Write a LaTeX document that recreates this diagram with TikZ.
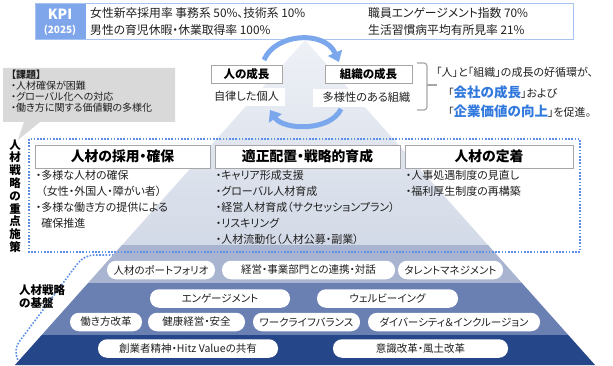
\documentclass[tikz,border=0pt]{standalone}
\usepackage{fontspec}
\setmainfont{Noto Sans CJK JP}[RawFeature=+palt]
\usetikzlibrary{shapes,arrows.meta,positioning,calc}
\usepackage{xcolor}
\definecolor{kpiblue}{HTML}{7FA6EA}
\definecolor{kpiline}{HTML}{A7C3F2}
\definecolor{cycblue}{HTML}{7BA7EC}
\definecolor{dotblue}{HTML}{5B8FE8}
\definecolor{keyblue}{HTML}{3279DD}
\definecolor{callgray}{HTML}{D9D9D9}
\definecolor{headgray}{HTML}{A6A6A6}
\definecolor{pyrtop}{HTML}{EEF1F6}
\definecolor{pyrbot}{HTML}{C3CCDE}
\definecolor{bandone}{HTML}{A9B5D0}
\definecolor{bandtwo}{HTML}{6A7FB2}
\definecolor{bandthree}{HTML}{26468A}
\definecolor{textdark}{HTML}{202020}
\tikzset{
  >=Stealth,
  kpitext/.style={anchor=west,font=\fontsize{11.8}{13}\selectfont,inner sep=0pt},
  head/.style={draw=headgray,fill=white,line width=0.8pt,minimum height=23pt,font=\fontsize{13.8}{15}\selectfont\bfseries,inner sep=0pt,text=black},
  growbox/.style={draw=headgray,fill=white,line width=0.8pt,minimum height=18pt,font=\fontsize{11.5}{13}\selectfont\bfseries,inner sep=0pt,text=black},
  growtext/.style={fill=white,minimum height=18pt,font=\fontsize{11.2}{13}\selectfont,inner sep=0pt},
  pill/.style={fill=white,rounded corners=9pt,minimum height=18.5pt,font=\fontsize{10.5}{12}\selectfont,inner sep=0pt},
  items/.style={align=left,font=\fontsize{11}{15.8}\selectfont,inner sep=0pt},
  cyc/.style={draw=cycblue,line width=5pt,-{Triangle[width=15pt,length=10pt]}},
  dotline/.style={draw=dotblue,line width=1.6pt,dash pattern=on 1.6pt off 1.6pt},
  brace/.style={draw=headgray,line width=1.2pt,rounded corners=3pt}
}
\begin{document}
\begin{tikzpicture}[x=1pt,y=-1pt,every node/.append style={text=textdark}]
\useasboundingbox (0,0) rectangle (613,366);
\draw[dotline,rounded corners=10pt] (120,255) -- (84,255) -- (13,350) -- (20,364);
\coordinate (apex) at (305,40);
\coordinate (bl) at (15,365);
\coordinate (br) at (595,365);
\shade[top color=pyrtop,bottom color=pyrbot] (apex) -- (bl) -- (br) -- cycle;
\begin{scope}
\clip (apex) -- (bl) -- (br) -- cycle;
\fill[bandone] (0,245) rectangle (613,283);
\fill[bandtwo] (0,283) rectangle (613,335);
\fill[bandthree] (0,335) rectangle (613,366);
\end{scope}

\node[draw=kpiline,line width=0.8pt,fill=white,minimum width=538pt,minimum height=36pt,anchor=north west,inner sep=0pt] (kpibox) at (35,3) {};
\node[fill=kpiblue,minimum width=50pt,minimum height=35pt,anchor=north west,inner sep=0pt] (kpitag) at (35.4,3.4) {};
\node[text=white,font=\fontsize{14}{15}\selectfont\bfseries,inner sep=0pt] (kpi) at (60,14.5) {KPI};
\node[text=white,font=\fontsize{10}{11}\selectfont\bfseries,inner sep=0pt] (kpiyear) at (60,30) {(2025)};
\node[kpitext] (kpihire) at (90,13.5) {女性新卒採用率 事務系 50\%、技術系 10\%};
\node[kpitext] (kpileave) at (90,30) {男性の育児休暇・休業取得率 100\%};
\node[kpitext] (kpiengage) at (368,13.5) {職員エンゲージメント指数 70\%};
\node[kpitext] (kpihealth) at (368,30) {生活習慣病平均有所見率 21\%};

\fill[callgray] (3,68) -- (175,68) -- (175,122) -- (40,122) -- (18,140) -- (24,122) -- (3,122) -- cycle;
\node[anchor=north west,align=left,font=\fontsize{10}{11}\selectfont,inner sep=0pt] (issue) at (11,70) {\textbf{【課題】}\\・人材確保が困難\\・グローバル化への対応\\・働き方に関する価値観の多様化};

\node[align=center,font=\fontsize{11.5}{12.8}\selectfont\bfseries,inner sep=0pt,text=black] (focus) at (15,196) {人\\材\\戦\\略\\の\\重\\点\\施\\策};
\node[anchor=north west,align=left,font=\fontsize{11.5}{13}\selectfont\bfseries,inner sep=0pt,text=black] (basis) at (19,284) {人材戦略\\の基盤};

\draw[dotline] (29,139) rectangle (580,252);

\coordinate (topstart) at (264,60);
\coordinate (topend) at (339,62);
\coordinate (lowstart) at (341,109);
\coordinate (lowend) at (270,110);
\draw[cyc] (topstart) .. controls (275,33) and (325,30) .. (topend);
\draw[cyc] (lowstart) .. controls (330,132) and (283,130) .. (lowend);

\node[growbox,minimum width=71pt] (hito) at (246.5,74) {人の成長};
\node[growtext,minimum width=76pt,below=4pt of hito] (jiritsu) {自律した個人};
\node[growbox,minimum width=87pt] (soshiki) at (368.5,74) {組織の成長};
\node[growtext,minimum width=107pt,below=5pt of soshiki,xshift=-2pt] (tayou) {多様性のある組織};

\draw[brace] (417,63) -- (427,63) -- (427,110) -- (417,110);
\draw[brace] (427,85) -- (437,85);
\node[anchor=west,font=\fontsize{11}{13}\selectfont,inner sep=0pt] (msgcycle) at (436,72) {「人」と「組織」の成長の好循環が、};
\node[anchor=west,font=\fontsize{11}{13}\selectfont,inner sep=0pt] (msggrowth) at (448,92) {「{\color{keyblue}\fontsize{13.5}{15}\selectfont\bfseries 会社の成長}」および};
\node[anchor=west,font=\fontsize{11}{13}\selectfont,inner sep=0pt] (msgvalue) at (448,111) {「{\color{keyblue}\fontsize{13.5}{15}\selectfont\bfseries 企業価値の向上}」を促進。};

\node[head,minimum width=175pt] (recruit) at (122.5,156.5) {人材の採用・確保};
\node[head,minimum width=185pt] (place) at (307.5,156.5) {適正配置・戦略的育成};
\node[head,minimum width=168pt] (retain) at (489,156.5) {人材の定着};
\node[items,below right=2pt and 1pt of recruit.south west] (recruitlist) {・多様な人材の確保\\\phantom{・}（女性・外国人・障がい者）\\・多様な働き方の提供による\\\phantom{・}確保推進};
\node[items,below right=2pt and 1pt of place.south west] (placelist) {・キャリア形成支援\\・グローバル人材育成\\・経営人材育成（サクセッションプラン）\\・リスキリング\\・人材流動化（人材公募・副業）};
\node[items,below right=2pt and 1pt of retain.south west] (retainlist) {・人事処遇制度の見直し\\・福利厚生制度の再構築};

\node[pill,minimum width=108pt] (portfolio) at (161,270) {人材のポートフォリオ};
\node[pill,minimum width=173pt] (dialog) at (308.5,270) {経営・事業部門との連携・対話};
\node[pill,minimum width=105pt] (talent) at (450.5,270) {タレントマネジメント};
\node[pill,minimum width=140pt] (engage) at (220,298.5) {エンゲージメント};
\node[pill,minimum width=141pt] (wellbeing) at (387.5,298.5) {ウェルビーイング};
\node[pill,minimum width=72pt] (workstyle) at (106,322) {働き方改革};
\node[pill,minimum width=97pt] (health) at (196.5,322) {健康経営・安全};
\node[pill,minimum width=107pt] (balance) at (306.5,322) {ワークライフバランス};
\node[pill,minimum width=172pt] (diversity) at (454,322) {ダイバーシティ＆インクルージョン};
\node[pill,minimum width=180pt] (founder) at (188,348.5) {創業者精神・Hitz Valueの共有};
\node[pill,minimum width=175pt] (mindset) at (420.5,348.5) {意識改革・風土改革};
\end{tikzpicture}
\end{document}
